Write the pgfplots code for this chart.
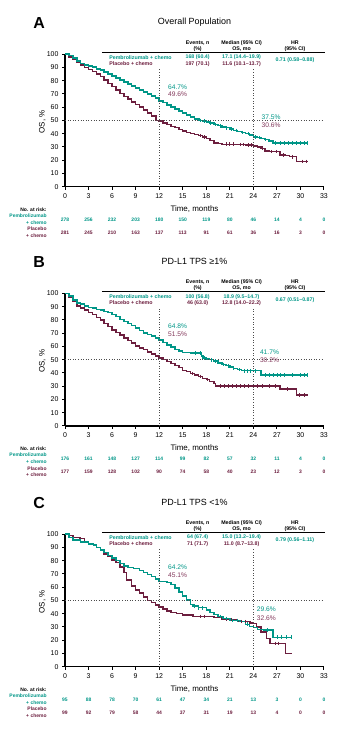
\documentclass[border=0pt]{standalone}
\usepackage{fontspec}
\setmainfont{Liberation Sans}
\usepackage{pgfplots}
\pgfplotsset{compat=1.18}
\definecolor{kmteal}{RGB}{0,150,135}
\definecolor{kmmaroon}{RGB}{108,30,62}
\definecolor{annmaroon}{RGB}{130,55,90}
\newcommand\tickfont{\fontsize{7}{8}\selectfont}
\newcommand\tabfont{\bfseries\fontsize{5.3}{5.9}\selectfont}
\newcommand\riskfont{\bfseries\fontsize{5}{6}\selectfont}
\newcommand\annfont{\fontsize{6.7}{7}\selectfont}
\newcommand\riskrow[3]{%
  \foreach \x/\n in {#3}{%
    \edef\tmp{\noexpand\node[font=\noexpand\riskfont, text=#2] at (axis cs:\x,#1) {\n};}\tmp}}
\newcommand\panelframe[7]{%
  \node[font=\bfseries\fontsize{16}{16}\selectfont] at (axis cs:-3.3,123.4) {#1};
  \node[font=\fontsize{9}{10}\selectfont] at (axis cs:16.5,124) {#2};
  \node[font=\tabfont, align=center] at (axis cs:16.9,106.2) {Events, n\\(\%)};
  \node[font=\tabfont, align=center] at (axis cs:22.5,106.2) {Median (95\% CI)\\OS, mo};
  \node[font=\tabfont, align=center] at (axis cs:29.3,106.2) {HR\\(95\% CI)};
  \draw[line width=0.9bp] (axis cs:4.7,101.2) -- (axis cs:33.1,101.2);
  \node[font=\tabfont, text=kmteal, anchor=west] at (axis cs:5.2,97.6) {Pembrolizumab + chemo};
  \node[font=\tabfont, text=kmmaroon, anchor=west] at (axis cs:5.2,92.8) {Placebo + chemo};
  \node[font=\tabfont, text=kmteal] at (axis cs:16.9,97.6) {#3};
  \node[font=\tabfont, text=kmmaroon] at (axis cs:16.9,92.8) {#4};
  \node[font=\tabfont, text=kmteal] at (axis cs:22.5,97.6) {#5};
  \node[font=\tabfont, text=kmmaroon] at (axis cs:22.5,92.8) {#6};
  \node[font=\tabfont, text=kmteal] at (axis cs:29.3,95.2) {#7};
  \draw[dotted, line width=0.6bp, black!70] (axis cs:0,50) -- (axis cs:33,50);
  \draw[dotted, line width=0.6bp, black!70] (axis cs:12,0) -- (axis cs:12,89);
  \draw[dotted, line width=0.6bp, black!70] (axis cs:24,0) -- (axis cs:24,89);
  \node[font=\fontsize{8}{9}\selectfont] at (axis cs:16.5,-17) {Time, months};
  \node[font=\fontsize{8}{9}\selectfont, rotate=90] at (axis cs:-2.9,49) {OS, \%};
  \node[font=\riskfont, anchor=east] at (axis cs:-1.9,-17.3) {No. at risk:};
  \node[font=\riskfont, text=kmteal, anchor=east] at (axis cs:-1.9,-22) {Pembrolizumab};
  \node[font=\riskfont, text=kmteal, anchor=east] at (axis cs:-1.9,-27.3) {+ chemo};
  \node[font=\riskfont, text=kmmaroon, anchor=east] at (axis cs:-1.9,-32) {Placebo};
  \node[font=\riskfont, text=kmmaroon, anchor=east] at (axis cs:-1.9,-36.8) {+ chemo};
}
\pgfplotsset{km/.style={scale only axis, width=259bp, height=132.5bp,
  xmin=0, xmax=33, ymin=0, ymax=100,
  axis x line*=bottom, axis y line*=left,
  axis line style={-, line width=1.3bp, black},
  xtick={0,3,...,33}, ytick={0,10,...,100},
  tick align=outside, major tick length=3bp,
  tick style={line width=1bp, black},
  ticklabel style={font=\tickfont},
  /pgf/number format/assume math mode=true,
  clip=false, anchor=south west},
  tealline/.style={const plot, kmteal, line width=1.5bp},
  maroonline/.style={const plot, kmmaroon, line width=1.5bp},
  tealcens/.style={only marks, mark=|, mark size=1.8bp, kmteal, mark options={line width=0.7bp}},
  marooncens/.style={only marks, mark=|, mark size=1.8bp, kmmaroon, mark options={line width=0.7bp}}}
\begin{document}
\begin{tikzpicture}
\useasboundingbox (0,0) rectangle (357bp,743bp);
% ---------------- Panel A
\begin{axis}[km, at={(65bp,556.3bp)}]
\addplot[maroonline] coordinates {(0,100)(0.5,98)(1,96)(1.5,94.2)(2,92)(2.5,90)(3,88.5)(3.5,87)(4,85)(4.5,83)(5,80.5)(5.5,78)(6,75.5)(6.5,73)(7,70.5)(7.5,68)(8,66)(8.5,64)(9,62)(9.5,60)(10,57.8)(10.5,55.5)(11,53.5)(11.6,50)(12,49.6)(12.5,48)(13,47)(13.5,45.5)(14,44.5)(14.5,43)(15,42)(15.5,41)(16,40)(16.5,39.5)(17,38.5)(17.5,37.5)(18,36.5)(18.5,35)(19,33)(19.5,32.5)(20,32)(22,31.8)(23,31.3)(24,30.6)(24.5,30)(25,29)(25.5,27)(26,26.5)(27.4,24)(28,23.5)(28.6,22.6)(29.5,19)(31,19)};
\addplot[marooncens] coordinates {(17.3,38.5)(17.8,37.5)(20.5,32)(21,32)(21.5,32)(22.3,31.8)(22.7,31.8)(23.3,31.3)(23.7,31.3)(25.2,29)(26.3,26.5)(26.9,26.5)(27.8,24)(29,22.6)(30.2,19)(30.8,19)};
\addplot[tealline] coordinates {(0,100)(0.5,99)(1,97)(1.5,95)(2,93)(2.5,92)(3,91)(3.5,90.4)(4,89)(4.5,88)(5,86.5)(5.5,85)(6,83.5)(6.5,82)(7,80.5)(7.5,79)(8,77.5)(8.5,76)(9,74.5)(9.5,73)(10,71.6)(10.5,70)(11,68.5)(11.5,66.8)(12,64.7)(12.5,63.5)(13,61.5)(13.5,60)(14,58.5)(14.5,57)(15,55.5)(15.5,54)(16,52.5)(16.5,51.2)(17.1,50)(17.5,49.5)(18,49)(18.5,48)(19,47)(19.5,46)(20,45.2)(20.5,44.5)(21,43.5)(21.5,42.5)(22,41.5)(22.5,41)(23,40)(23.5,39)(24,37.5)(24.5,37)(25,36.5)(25.5,35.5)(26,34.5)(26.5,33)(31,33)};
\addplot[tealcens] coordinates {(17.3,50)(17.8,49.5)(18.5,48)(19.2,47)(19.8,46)(20.5,44.5)(21.2,43.5)(21.8,42.5)(22.6,41)(23.3,40)(24.2,37.5)(24.8,37)(25.5,35.5)(26.8,33)(27.5,33)(28,33)(28.5,33)(29,33)(29.5,33)(30,33)(30.5,33)(30.9,33)};
\panelframe{A}{Overall Population}{168 (60.4)}{197 (70.1)}{17.1 (14.4–19.9)}{11.6 (10.1–13.7)}{0.71 (0.58–0.88)}
\node[font=\annfont, text=kmteal, anchor=west] at (axis cs:12.7,75) {64.7\%};
\node[font=\annfont, text=annmaroon, anchor=west] at (axis cs:12.7,69.9) {49.6\%};
\node[font=\annfont, text=kmteal, anchor=west] at (axis cs:24.6,52.5) {37.5\%};
\node[font=\annfont, text=annmaroon, anchor=west] at (axis cs:24.6,46.5) {30.6\%};
\riskrow{-24.7}{kmteal}{0/278,3/256,6/232,9/203,12/180,15/150,18/119,21/80,24/46,27/14,30/4,33/0}
\riskrow{-34.5}{kmmaroon}{0/281,3/245,6/210,9/163,12/137,15/113,18/91,21/61,24/36,27/16,30/3,33/0}
\end{axis}
% ---------------- Panel B
\begin{axis}[km, at={(65bp,317bp)}]
\addplot[maroonline] coordinates {(0,100)(0.5,97)(1,94)(1.5,90.4)(2,89)(2.5,87.5)(3,85.5)(3.5,84)(4,82)(4.5,80)(5,77.5)(5.5,75)(6,72.5)(6.5,70.5)(7,68.5)(7.5,66.5)(8,64.5)(8.5,62.5)(9,60.5)(9.5,59)(10,57.6)(10.5,56)(11,54.5)(11.5,53)(12,51.5)(12.5,50)(13,48.5)(13.5,47)(14,45.5)(14.5,44)(15,42)(15.5,41)(16,39.5)(16.5,38.6)(17,37.5)(17.5,36)(18,35)(18.4,33.6)(19,32)(19.2,30.2)(27.3,30.2)(27.4,27.8)(29.5,23.5)(31,23.5)};
\addplot[marooncens] coordinates {(16.2,39.5)(17.3,37.5)(18.1,35)(19.8,30.2)(20.3,30.2)(20.8,30.2)(21.3,30.2)(21.8,30.2)(22.3,30.2)(22.8,30.2)(23.3,30.2)(24.5,30.2)(25.2,30.2)(26,30.2)(26.8,30.2)(28.3,27.8)(29.8,23.5)(30.5,23.5)};
\addplot[tealline] coordinates {(0,100)(0.5,98)(1,95)(1.5,93)(2,92)(2.5,90.5)(3,89.5)(3.5,89)(4,88)(4.5,87.5)(5,86.5)(5.5,85.5)(6,84)(6.5,82.5)(7,80.5)(7.5,79)(8,77.5)(8.5,76)(9,74)(9.5,72)(10,70.2)(10.5,69)(11,68)(11.5,66.5)(12,64.8)(12.5,63)(13,61)(13.5,59.5)(14,57.6)(14.5,56.5)(15,55.5)(16,55.2)(17,55)(17.4,53)(17.6,51.3)(18,50.5)(18.4,50)(18.9,49)(19.5,47.5)(20,46.5)(20.5,45.5)(21,44.5)(21.5,43.5)(22,42.5)(22.5,41.7)(24.8,41.7)(25,38.6)(31,38.6)};
\addplot[tealcens] coordinates {(16.6,55.2)(17.2,55)(17.8,51.3)(18.6,50)(19.2,49)(20.2,46.5)(20.8,45.5)(21.5,43.5)(22.2,42.5)(22.8,41.7)(23.2,41.7)(23.6,41.7)(24.2,41.7)(25.5,38.6)(26,38.6)(26.5,38.6)(27,38.6)(27.5,38.6)(28,38.6)(29,38.6)(30,38.6)(30.5,38.6)(30.9,38.6)};
\panelframe{B}{PD-L1 TPS ≥1\%}{100 (56.8)}{46 (63.0)}{18.9 (9.5–14.7)}{12.8 (14.0–22.2)}{0.67 (0.51–0.87)}
\node[font=\annfont, text=kmteal, anchor=west] at (axis cs:12.7,75.2) {64.8\%};
\node[font=\annfont, text=annmaroon, anchor=west] at (axis cs:12.7,69.5) {51.5\%};
\node[font=\annfont, text=kmteal, anchor=west] at (axis cs:24.4,55.6) {41.7\%};
\node[font=\annfont, text=annmaroon, anchor=west] at (axis cs:24.4,49.4) {30.2\%};
\riskrow{-24.7}{kmteal}{0/176,3/161,6/148,9/127,12/114,15/99,18/82,21/57,24/32,27/11,30/4,33/0}
\riskrow{-34.5}{kmmaroon}{0/177,3/159,6/128,9/102,12/90,15/74,18/58,21/40,24/23,27/12,30/3,33/0}
\end{axis}
% ---------------- Panel C
\begin{axis}[km, at={(65bp,76.3bp)}]
\addplot[maroonline] coordinates {(0,100)(0.5,99)(1,97.5)(1.9,96.7)(2.5,94.5)(3,93)(3.6,91.8)(4,90)(4.5,88)(5,85)(5.5,83)(6,80.5)(6.5,78.5)(7,75.4)(7.5,71)(7.84,65.3)(8.5,61)(9,58)(9.5,55.5)(10,52.7)(10.5,50)(11,48.5)(11.5,46.5)(12,45.1)(12.5,43.5)(13,42)(13.5,41)(14.2,40.2)(15,39)(16.3,38)(19,37)(20,35.5)(22,34)(23.6,33)(24,32.6)(24.4,30)(25,26)(25.7,21.4)(26.1,17.6)(28.1,10)(28.9,10)};
\addplot[marooncens] coordinates {(17.2,38)(17.7,38)(20.6,35.5)(21.2,35.5)(22.5,34)(23,34)(26.8,17.6)(27.2,17.6)};
\addplot[tealline] coordinates {(0,100)(0.5,97.5)(1,95.5)(2,94)(3,92.5)(3.6,91.8)(4,90)(4.5,88)(5,86)(5.5,84)(6,82)(6.5,80)(7,77.9)(7.5,76)(8,75)(8.7,74.2)(9.5,72.5)(10,71)(10.5,69.5)(11,68)(11.5,66)(12,64.2)(13,63.5)(13.5,62)(14,59.5)(14.5,56.5)(15,53.5)(15.5,50.3)(16,47)(16.3,45.7)(17,44.5)(18,42.7)(18.5,41)(19,39.5)(19.5,38)(20.1,36.5)(21,35)(22.3,34)(23,32)(23.5,30.5)(24,29.6)(24.5,28)(25.3,27.7)(26.5,22.2)(28.9,22.2)};
\addplot[tealcens] coordinates {(16.5,45.7)(17,44.5)(17.5,44.5)(19.8,38)(20.5,36.5)(21.3,35)(22,35)(23.2,32)(25.8,27.7)(27,22.2)(27.6,22.2)(28.2,22.2)(28.9,22.2)};
\panelframe{C}{PD-L1 TPS <1\%}{64 (67.4)}{71 (71.7)}{15.0 (13.2–19.4)}{11.0 (8.7–13.8)}{0.79 (0.56–1.11)}
\node[font=\annfont, text=kmteal, anchor=west] at (axis cs:12.7,74.9) {64.2\%};
\node[font=\annfont, text=annmaroon, anchor=west] at (axis cs:12.7,69.3) {45.1\%};
\node[font=\annfont, text=kmteal, anchor=west] at (axis cs:24,43.2) {29.6\%};
\node[font=\annfont, text=annmaroon, anchor=west] at (axis cs:24,36.5) {32.6\%};
\riskrow{-24.7}{kmteal}{0/95,3/88,6/78,9/70,12/61,15/47,18/34,21/21,24/13,27/3,30/0,33/0}
\riskrow{-34.5}{kmmaroon}{0/99,3/92,6/79,9/58,12/44,15/37,18/31,21/19,24/13,27/4,30/0,33/0}
\end{axis}
\end{tikzpicture}
\end{document}
